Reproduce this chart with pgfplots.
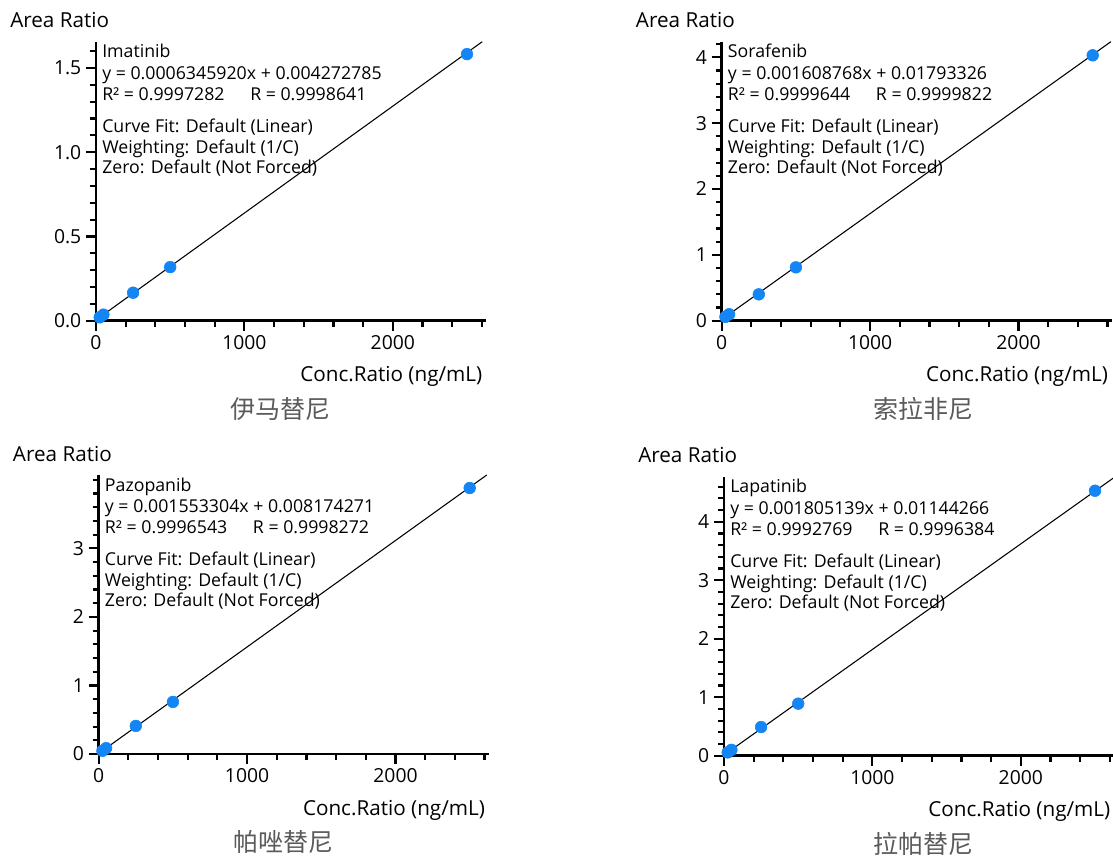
\documentclass[border=0pt]{standalone}
\usepackage{pgfplots}
\pgfplotsset{compat=1.18}
\usepackage{fontspec}
\setmainfont{Open Sans}
\newfontfamily\cjk{Noto Sans CJK SC}
\definecolor{dot}{RGB}{20,133,245}
\definecolor{cn}{RGB}{90,90,90}

\newcommand{\ann}[5]{%
 \node[anchor=base west,inner sep=0pt,font=\fontsize{13.3}{16}\selectfont] at ([xshift=4.5pt,yshift=-12.2pt]rel axis cs:0,1) {#1};
 \node[anchor=base west,inner sep=0pt,font=\fontsize{13.3}{16}\selectfont] at ([xshift=4.5pt,yshift=-28.5pt]rel axis cs:0,1) {#2};
 \node[anchor=base west,inner sep=0pt,font=\fontsize{13.3}{16}\selectfont] at ([xshift=4.5pt,yshift=-44.2pt]rel axis cs:0,1) {R² = #3};
 \node[anchor=base west,inner sep=0pt,font=\fontsize{13.3}{16}\selectfont] at ([xshift=115.5pt,yshift=-44.2pt]rel axis cs:0,1) {R = #4};
 \node[anchor=base west,inner sep=0pt,font=\fontsize{13.3}{16}\selectfont] at ([xshift=4.5pt,yshift=-68pt]rel axis cs:0,1) {Curve Fit: Default (Linear)};
 \node[anchor=base west,inner sep=0pt,font=\fontsize{13.3}{16}\selectfont] at ([xshift=4.5pt,yshift=-83.5pt]rel axis cs:0,1) {Weighting: Default (1/C)};
 \node[anchor=base west,inner sep=0pt,font=\fontsize{13.3}{16}\selectfont] at ([xshift=4.5pt,yshift=-99pt]rel axis cs:0,1) {Zero: Default (Not Forced)};
 \node[anchor=base west,inner sep=0pt,font=\fontsize{15.5}{18}\selectfont] at ([xshift=-64.5pt,yshift=10.3pt]rel axis cs:0,1) {Area Ratio};
 \node[anchor=base east,inner sep=0pt,font=\fontsize{15.5}{18}\selectfont] at ([xshift=-2.6pt,yshift=-45.75pt]rel axis cs:1,0) {Conc.Ratio (ng/mL)};
}

\pgfplotsset{cal/.style={
  scale only axis, width=292.5pt, height=209.25pt,
  axis x line*=bottom, axis y line*=left,
  every outer x axis line/.append style={-, line width=2pt, black},
  every outer y axis line/.append style={-, line width=2pt, black},
  xmin=0, xmax=2628, ymin=0,
  xtick={0,1000,2000}, xticklabels={0,1000,2000},
  minor xtick={200,400,600,800,1200,1400,1600,1800,2200,2400,2600},
  tick align=outside, major tick length=7.5pt, minor tick length=4.5pt,
  tick style={line width=1.6pt, black},
  tick label style={font=\fontsize{14.5}{17}\selectfont},
  clip=false,
}}

\begin{document}
\begin{tikzpicture}
\useasboundingbox (0,0) rectangle (834.75pt,642.75pt);

% Panel 1: Imatinib
\begin{axis}[cal, at={(72pt,402.225pt)}, anchor=origin, ymax=1.656,
  ytick={0,0.5,1,1.5}, yticklabels={0.0,0.5,1.0,1.5},
  minor ytick={0.1,0.2,0.3,0.4,0.6,0.7,0.8,0.9,1.1,1.2,1.3,1.4,1.6}]
\addplot[only marks, mark=*, mark size=4.4pt, color=dot] coordinates {
 (25,0.020) (50,0.036) (250,0.166) (500,0.318) (2500,1.582)};
\addplot[black, line width=0.8pt, no markers] coordinates {(0,0.004272785) (2602.8,1.656)};
\ann{Imatinib}{y = 0.0006345920x + 0.004272785}{0.9997282}{0.9998641}{}
\end{axis}

% Panel 2: Sorafenib
\begin{axis}[cal, at={(541.275pt,402.225pt)}, anchor=origin, ymax=4.237,
  ytick={0,1,2,3,4}, yticklabels={0,1,2,3,4},
  minor ytick={0.2,0.4,0.6,0.8,1.2,1.4,1.6,1.8,2.2,2.4,2.6,2.8,3.2,3.4,3.6,3.8,4.2}]
\addplot[only marks, mark=*, mark size=4.4pt, color=dot] coordinates {
 (25,0.058) (50,0.098) (250,0.40) (500,0.81) (2500,4.03)};
\addplot[black, line width=0.8pt, no markers] coordinates {(0,0.01793326) (2622.5,4.237)};
\ann{Sorafenib}{y = 0.001608768x + 0.01793326}{0.9999644}{0.9999822}{}
\end{axis}

% Panel 3: Pazopanib
\begin{axis}[cal, at={(74.025pt,77.25pt)}, anchor=origin, ymax=4.07,
  ytick={0,1,2,3}, yticklabels={0,1,2,3},
  minor ytick={0.2,0.4,0.6,0.8,1.2,1.4,1.6,1.8,2.2,2.4,2.6,2.8,3.2,3.4,3.6,3.8,4.0}]
\addplot[only marks, mark=*, mark size=4.4pt, color=dot] coordinates {
 (25,0.047) (50,0.085) (250,0.41) (500,0.76) (2500,3.88)};
\addplot[black, line width=0.8pt, no markers] coordinates {(0,0.008174271) (2615,4.07)};
\ann{Pazopanib}{y = 0.001553304x + 0.008174271}{0.9996543}{0.9998272}{}
\end{axis}

% Panel 4: Lapatinib
\begin{axis}[cal, at={(543pt,75.975pt)}, anchor=origin, ymax=4.77,
  ytick={0,1,2,3,4}, yticklabels={0,1,2,3,4},
  minor ytick={0.2,0.4,0.6,0.8,1.2,1.4,1.6,1.8,2.2,2.4,2.6,2.8,3.2,3.4,3.6,3.8,4.2,4.4,4.6}]
\addplot[only marks, mark=*, mark size=4.4pt, color=dot] coordinates {
 (25,0.056) (50,0.10) (250,0.49) (500,0.89) (2500,4.53)};
\addplot[black, line width=0.8pt, no markers] coordinates {(0,0.01144266) (2628,4.7554)};
\ann{Lapatinib}{y = 0.001805139x + 0.01144266}{0.9992769}{0.9996384}{}
\end{axis}

\node[font=\cjk\fontsize{18.75}{20}\selectfont, text=cn] at (210pt,336pt) {伊马替尼};
\node[font=\cjk\fontsize{18.75}{20}\selectfont, text=cn] at (692.25pt,336pt) {索拉非尼};
\node[font=\cjk\fontsize{18.75}{20}\selectfont, text=cn] at (212.25pt,10.9pt) {帕唑替尼};
\node[font=\cjk\fontsize{18.75}{20}\selectfont, text=cn] at (692.25pt,9.6pt) {拉帕替尼};
\end{tikzpicture}
\end{document}
